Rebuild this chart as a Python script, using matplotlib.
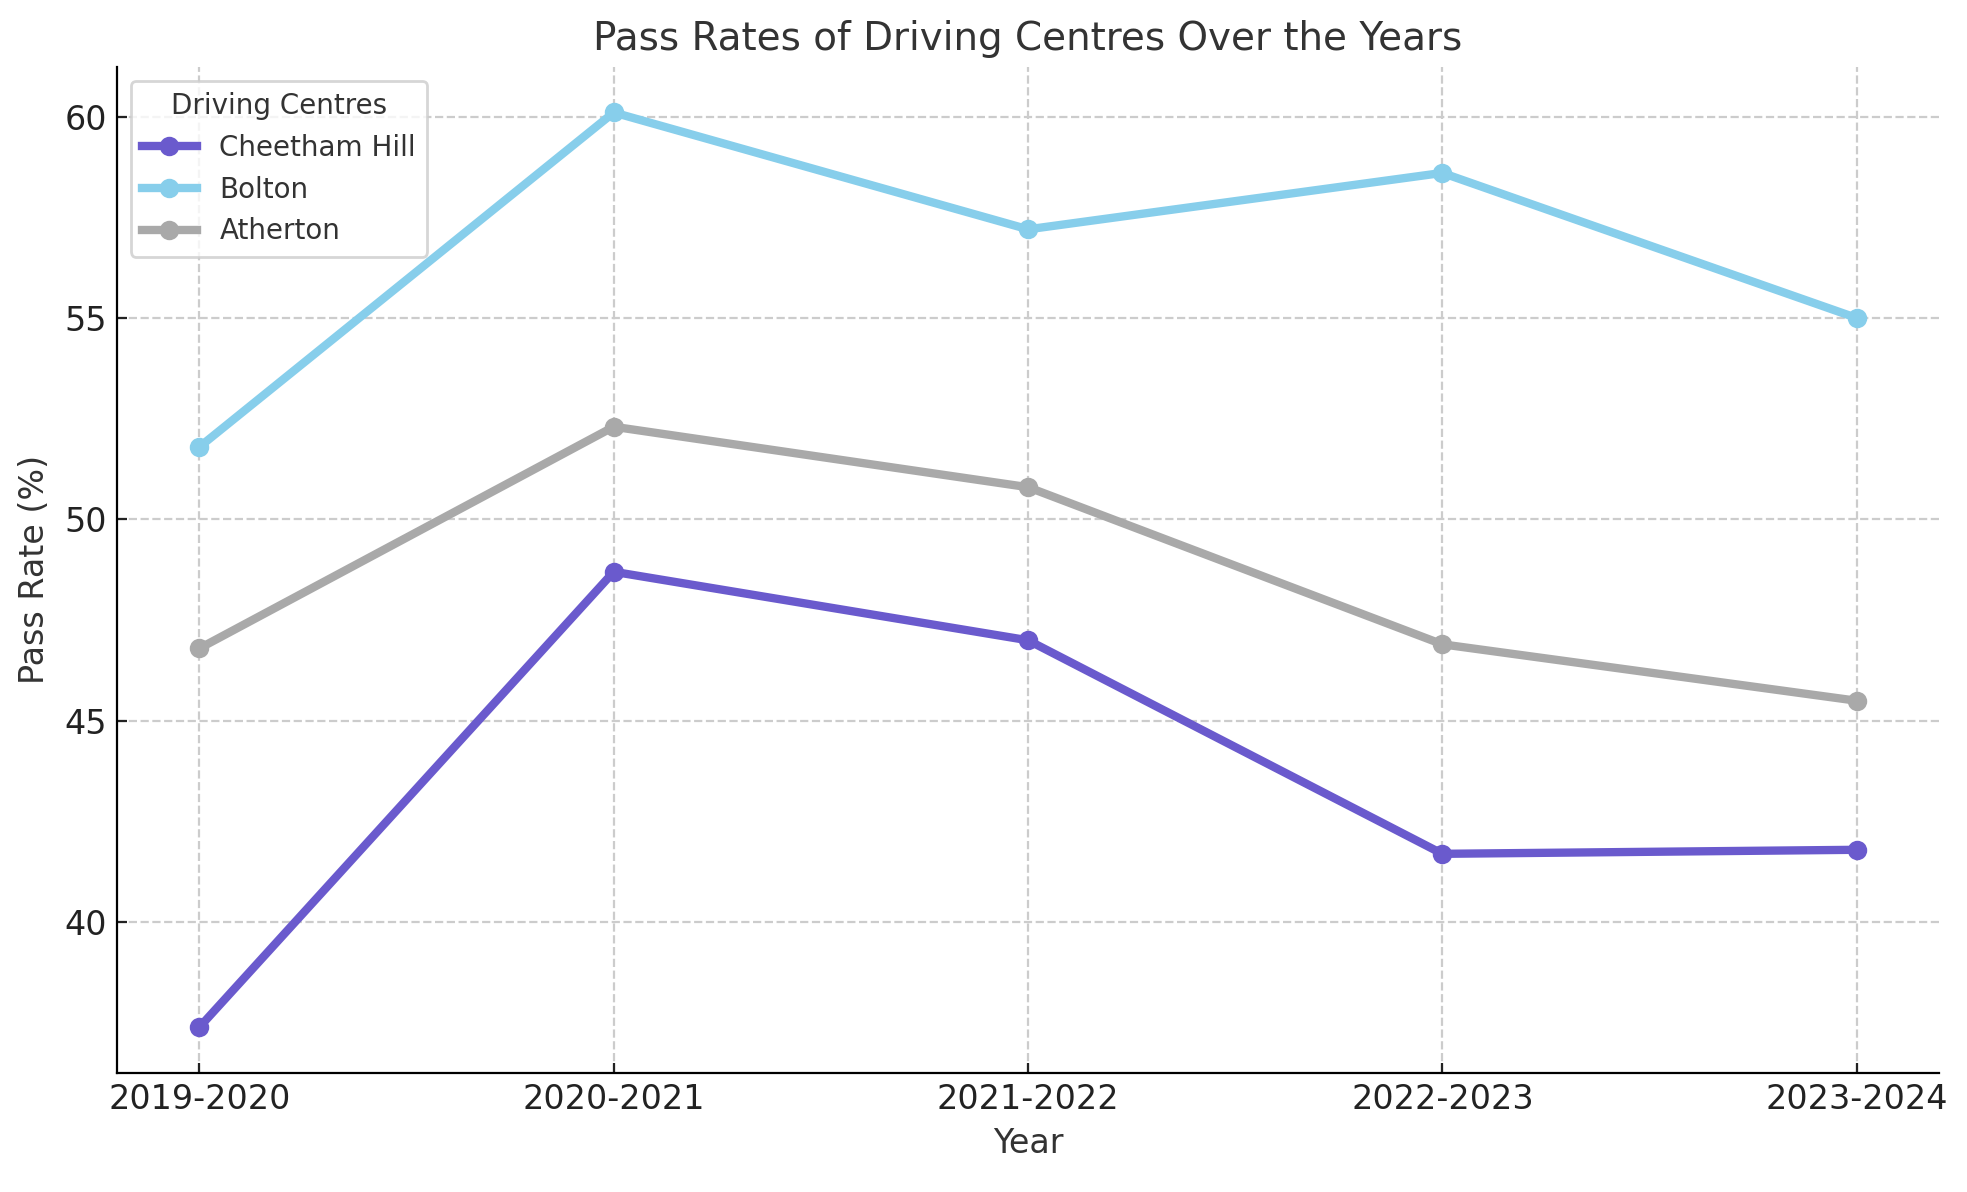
import matplotlib
matplotlib.use('Agg')
import matplotlib.pyplot as plt

# Datos
years = ['2019-2020', '2020-2021', '2021-2022', '2022-2023', '2023-2024']
cheetham_hill = [37.4, 48.7, 47.0, 41.7, 41.8]
bolton = [51.8, 60.1, 57.2, 58.6, 55.0]
atherton = [46.8, 52.3, 50.8, 46.9, 45.5]

centres = ['Cheetham Hill', 'Bolton', 'Atherton']
colors = ['#6A5ACD', '#87CEEB', '#A9A9A9']

fig = plt.figure(figsize=(9.835, 5.96), dpi=200)
ax = fig.add_axes([0.0593, 0.100, 0.9267, 0.844])

for name, values, color in zip(centres, [cheetham_hill, bolton, atherton], colors):
    ax.plot(years, values, marker='o', markersize=6, linewidth=3, color=color, label=name)

ax.set_title('Pass Rates of Driving Centres Over the Years', fontsize=14, color='#333333')
ax.set_xlabel('Year', fontsize=12, color='#333333')
ax.set_ylabel('Pass Rate (%)', fontsize=12, color='#333333', labelpad=5)
ax.tick_params(labelsize=12, colors='#222222', direction='in')
ax.grid(True, linestyle='--', color='#cccccc', linewidth=0.8)
ax.spines['top'].set_visible(False)
ax.spines['right'].set_visible(False)

leg = ax.legend(title='Driving Centres', loc='upper left', fontsize=10, title_fontsize=10)
for t in leg.get_texts():
    t.set_color('#333333')
leg.get_title().set_color('#333333')

fig.savefig('out.png', dpi=200)
